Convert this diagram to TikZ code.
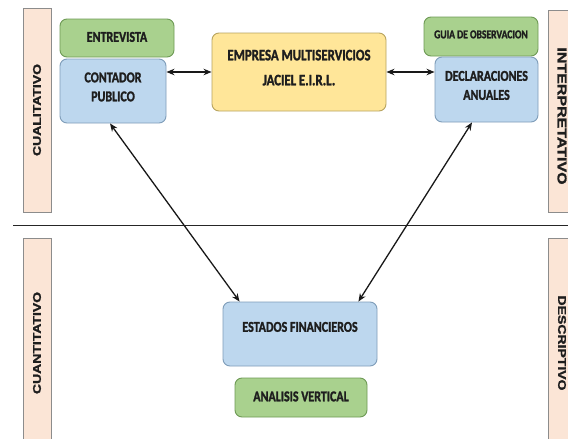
\documentclass[tikz,border=0pt]{standalone}
\usepackage{fontspec}
\setmainfont{Carlito}[BoldFont={Carlito Bold}, BoldFeatures={FakeBold=1.6}, FakeStretch=0.8]
\newfontfamily\barfont{Liberation Sans Bold}[FakeBold=1.6]
\usetikzlibrary{arrows.meta}
\definecolor{bluef}{HTML}{BDD7EE}
\definecolor{blued}{HTML}{7F9DB9}
\definecolor{greenf}{HTML}{A9D18E}
\definecolor{greend}{HTML}{6E9A55}
\definecolor{yellowf}{HTML}{FFE699}
\definecolor{yellowd}{HTML}{B8A45F}
\definecolor{peachf}{HTML}{FBE5D6}
\definecolor{peachd}{HTML}{8C8C8C}
\definecolor{txt}{HTML}{1E1E1E}
\newcommand\uptext[2]{\raisebox{#1}[\height][\depth]{\begin{tabular}{@{}c@{}}#2\end{tabular}}}
\newcommand\vertlab[3]{\rotatebox{#1}{\fontsize{#2}{#2}\selectfont\barfont\scalebox{1}[0.8]{#3}}}
\begin{document}
\begin{tikzpicture}[x=1pt,y=-1pt,
  box/.style={draw, rounded corners=7pt, line width=0.9pt, inner sep=0pt,
    font=\fontsize{15}{19}\selectfont\bfseries, text=txt},
  bluebox/.style={box, fill=bluef, draw=blued},
  greenbox/.style={box, fill=greenf, draw=greend},
  yellowbox/.style={box, fill=yellowf, draw=yellowd},
  bar/.style={draw=peachd, fill=peachf, line width=0.8pt, inner sep=0pt, text=txt},
  arr/.style={{Stealth[length=8pt,width=6.5pt]}-{Stealth[length=8pt,width=6.5pt]}, line width=1.3pt, draw=black!90}]
\useasboundingbox (0,0) rectangle (568,439);
\fill[white] (0,0) rectangle (568,439);
% side bars
\node[bar, minimum width=28, minimum height=204] (cual) at (37,110) {\vertlab{90}{14}{CUALITATIVO}};
\node[bar, minimum width=28, minimum height=210] (cuan) at (37,343) {\vertlab{90}{14}{CUANTITATIVO}};
\node[bar, minimum width=28, minimum height=202] (interp) at (562,111) {\raisebox{-10pt}{\vertlab{-90}{16}{INTERPRETATIVO}}};
\node[bar, minimum width=28, minimum height=210] (desc) at (562,343) {\vertlab{-90}{14}{DESCRIPTIVO}};
% separator
\coordinate (sepL) at (13,225);
\coordinate (sepR) at (568,225);
\draw[line width=1pt, black!85] (sepL) -- (sepR);
% boxes
\node[greenbox, minimum width=114, minimum height=38] (entrevista) at (117,38) {\uptext{0pt}{ENTREVISTA}};
\node[bluebox, minimum width=106, minimum height=64] (contador) at (113,91) {\uptext{3pt}{CONTADOR\\PUBLICO}};
\node[yellowbox, minimum width=174, minimum height=78, font=\fontsize{16}{19}\selectfont\bfseries] (empresa) at (299,72) {\uptext{3pt}{EMPRESA MULTISERVICIOS\\[6pt]JACIEL E.I.R.L.}};
\node[greenbox, minimum width=114, minimum height=39, font=\fontsize{12}{14}\selectfont\bfseries] (guia) at (481,36.5) {\uptext{1pt}{GUIA DE OBSERVACION}};
\node[bluebox, minimum width=103, minimum height=65] (declar) at (486.5,89.5) {\uptext{3pt}{DECLARACIONES\\ANUALES}};
\node[bluebox, minimum width=154, minimum height=64] (estados) at (300,334) {\uptext{6pt}{ESTADOS FINANCIEROS}};
\node[greenbox, minimum width=132, minimum height=39] (analisis) at (301,397.5) {\uptext{0pt}{ANALISIS VERTICAL}};
% connectors
\draw[arr] (contador.east |- empresa.west) -- (empresa.west);
\draw[arr] (empresa.east) -- (declar.west |- empresa.east);
\draw[arr] ([xshift=-3pt]contador.south) -- ([xshift=17pt]estados.north west);
\draw[arr] ([xshift=-14.5pt]declar.south) -- ([xshift=-19pt]estados.north east);
\end{tikzpicture}
\end{document}
